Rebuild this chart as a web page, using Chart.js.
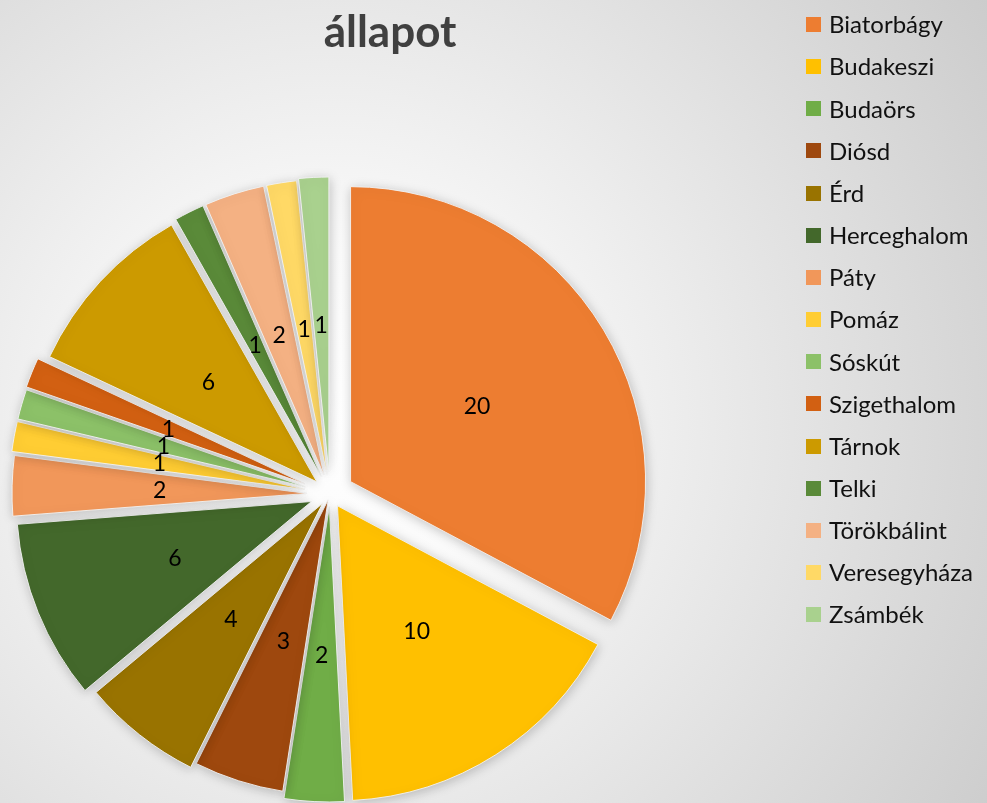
<!DOCTYPE html>
<html>
<head>
<meta charset="utf-8">
<script src="https://cdn.jsdelivr.net/npm/chart.js@4"></script>
<style>
  html, body { margin: 0; padding: 0; }
  body {
    width: 987px;
    height: 803px;
    overflow: hidden;
    background: radial-gradient(circle at 330px 420px, #ffffff 0px, #fafafa 170px, #c9c9c9 820px);
  }
  canvas { display: block; }
</style>
</head>
<body>
<canvas id="pieChart" width="987" height="803"></canvas>
<script>
// Data
const chartTitle = "állapot";
const towns = [
  "Biatorbágy", "Budakeszi", "Budaörs", "Diósd", "Érd",
  "Herceghalom", "Páty", "Pomáz", "Sóskút", "Szigethalom",
  "Tárnok", "Telki", "Törökbálint", "Veresegyháza", "Zsámbék",
];
const counts = [20, 10, 2, 3, 4, 6, 2, 1, 1, 1, 6, 1, 2, 1, 1];

// Styling
const sliceColors = [
  "#ED7D31", "#FFC000", "#70AD47", "#9E480E", "#997300",
  "#43682B", "#F1975A", "#FFCD33", "#8CC168", "#D26012",
  "#CC9A00", "#5A8A39", "#F4B183", "#FFD966", "#A9D18E",
];
// how far each slice is pulled out of the pie (px)
const explode = [24, 14, 13, 6, 12, 20, 23, 26, 26, 27, 18, 20, 20, 20, 22];

// Draw slices pulled out from the centre, with a soft shadow
const explodePlugin = {
  id: "explode",
  beforeDatasetDraw(chart, args) {
    const ctx = chart.ctx;
    ctx.save();
    ctx.shadowColor = "rgba(0, 0, 0, 0.22)";
    ctx.shadowBlur = 12;
    ctx.shadowOffsetX = 1;
    ctx.shadowOffsetY = 2;
    args.meta.data.forEach((arc, i) => {
      const mid = (arc.startAngle + arc.endAngle) / 2;
      ctx.save();
      ctx.translate(Math.cos(mid) * explode[i], Math.sin(mid) * explode[i]);
      arc.draw(ctx);
      ctx.restore();
    });
    ctx.restore();
    return false;
  },
};

// Value labels, title and legend
const decorPlugin = {
  id: "decor",
  afterDatasetsDraw(chart) {
    const ctx = chart.ctx;
    const meta = chart.getDatasetMeta(0);

    ctx.save();
    ctx.fillStyle = "#000";
    ctx.font = "23px Lato";
    ctx.textAlign = "center";
    ctx.textBaseline = "middle";
    meta.data.forEach((arc, i) => {
      const mid = (arc.startAngle + arc.endAngle) / 2;
      const p = arc.getCenterPoint();
      ctx.fillText(
        String(chart.data.datasets[0].data[i]),
        p.x + Math.cos(mid) * explode[i],
        p.y + Math.sin(mid) * explode[i] + 1
      );
    });

    // title
    ctx.fillStyle = "#404040";
    ctx.font = "bold 44px Lato";
    ctx.textBaseline = "alphabetic";
    ctx.fillText(chartTitle, 390, 47);

    // legend
    ctx.textAlign = "left";
    ctx.textBaseline = "middle";
    ctx.font = "24px Lato";
    chart.data.labels.forEach((label, i) => {
      const y = 24.5 + i * 42.16;
      ctx.fillStyle = sliceColors[i];
      ctx.fillRect(806, Math.round(y - 7.5), 15, 15);
      ctx.fillStyle = "#111";
      ctx.fillText(label, 829, y + 1);
    });
    ctx.restore();
  },
};

const ctx = document.getElementById("pieChart").getContext("2d");
new Chart(ctx, {
  type: "pie",
  data: {
    labels: towns,
    datasets: [
      {
        data: counts,
        backgroundColor: sliceColors,
        borderColor: "rgba(242, 242, 242, 0.9)",
        borderWidth: 1,
      },
    ],
  },
  options: {
    responsive: false,
    animation: false,
    devicePixelRatio: 1,
    radius: 295,
    layout: {
      padding: { left: 0, right: 327, top: 185, bottom: 0 },
    },
    plugins: {
      legend: { display: false },
      title: { display: false },
      tooltip: { enabled: false },
    },
  },
  plugins: [explodePlugin, decorPlugin],
});
</script>
</body>
</html>
